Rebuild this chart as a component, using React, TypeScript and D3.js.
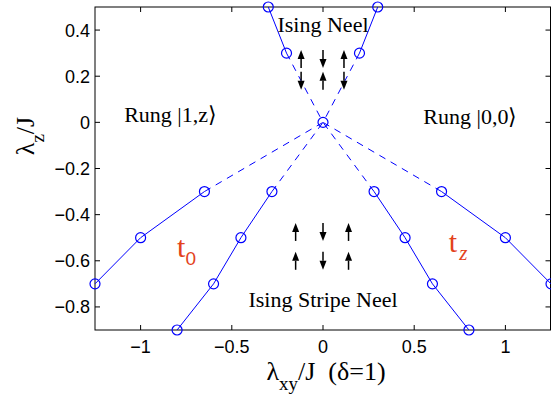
import * as d3 from 'd3';
import { useEffect, useRef } from 'react';

// phase boundaries, each a list of [lambda_xy, lambda_z], outer end first
const T0_OUTER: [number, number][] = [[-1.25, -0.7], [-1, -0.5], [-0.65, -0.3]];
const T0_INNER: [number, number][] = [[-0.8, -0.9], [-0.6, -0.7], [-0.45, -0.5], [-0.28, -0.3]];
const TZ_INNER: [number, number][] = [[0.8, -0.9], [0.6, -0.7], [0.45, -0.5], [0.28, -0.3]];
const TZ_OUTER: [number, number][] = [[1.25, -0.7], [1, -0.5], [0.65, -0.3]];
const NEEL_LEFT: [number, number][] = [[-0.3, 0.5], [-0.2, 0.3]];
const NEEL_RIGHT: [number, number][] = [[0.3, 0.5], [0.2, 0.3]];
const CENTER: [number, number] = [0, 0];

const X_TICKS = [-1, -0.5, 0, 0.5, 1];
const Y_TICKS = [0.4, 0.2, 0, -0.2, -0.4, -0.6, -0.8];

// spin arrows: [x, y, direction] (1 = up, -1 = down)
const NEEL_SPINS: [number, number, number][] = [
  [-0.12, 0.275, 1], [0, 0.275, -1], [0.115, 0.275, 1],
  [-0.12, 0.18, -1], [0, 0.18, 1], [0.115, 0.18, -1],
];
const STRIPE_SPINS: [number, number, number][] = [
  [-0.15, -0.475, 1], [0, -0.475, -1], [0.14, -0.475, 1],
  [-0.15, -0.6, 1], [0, -0.6, -1], [0.14, -0.6, 1],
];

const BLUE = '#0000ff';
const RED = '#e3421c';
const SERIF = '"Liberation Serif", "Times New Roman", serif';
const SANS = '"Liberation Sans", Arial, sans-serif';

function App() {
  const svgRef = useRef<SVGSVGElement>(null);

  useEffect(() => {
    if (!svgRef.current) { return; }
    const svg = d3.select(svgRef.current);
    svg.selectAll('*').remove();

    const x = d3.scaleLinear().domain([-1.25, 1.25]).range([95, 551]);
    const y = d3.scaleLinear().domain([-0.9, 0.5]).range([330, 7]);
    const [x0, x1] = [95, 550.5];
    const [y0, y1] = [7, 330];

    // frame + ticks
    const frame = svg.append('g');
    frame.append('rect')
      .attr('x', x0).attr('y', y0)
      .attr('width', x1 - x0).attr('height', y1 - y0)
      .attr('fill', 'none').attr('stroke', '#000').attr('stroke-width', 1);

    X_TICKS.forEach(t => {
      frame.append('line').attr('x1', x(t)).attr('x2', x(t)).attr('y1', y1).attr('y2', y1 - 5).attr('stroke', '#000');
      frame.append('line').attr('x1', x(t)).attr('x2', x(t)).attr('y1', y0).attr('y2', y0 + 5).attr('stroke', '#000');
      frame.append('text')
        .attr('x', x(t)).attr('y', 353)
        .attr('text-anchor', 'middle')
        .attr('font-family', SANS).attr('font-size', 18)
        .text(d3.format('')(t).replace('-', '\u2212'));
    });
    Y_TICKS.forEach(t => {
      frame.append('line').attr('x1', x0).attr('x2', x0 + 5).attr('y1', y(t)).attr('y2', y(t)).attr('stroke', '#000');
      frame.append('line').attr('x1', x1).attr('x2', x1 - 5).attr('y1', y(t)).attr('y2', y(t)).attr('stroke', '#000');
      frame.append('text')
        .attr('x', 90).attr('y', y(t) + 6.5)
        .attr('text-anchor', 'end')
        .attr('font-family', SANS).attr('font-size', 18)
        .text(d3.format('')(t).replace('-', '\u2212'));
    });

    const plot = svg.append('g');
    const line = d3.line<[number, number]>().x(d => x(d[0])).y(d => y(d[1]));

    const solids = [T0_OUTER, T0_INNER, TZ_INNER, TZ_OUTER, NEEL_LEFT, NEEL_RIGHT];
    solids.forEach(pts => {
      plot.append('path').attr('d', line(pts)).attr('fill', 'none').attr('stroke', BLUE).attr('stroke-width', 1);
      // dashed continuation to the origin
      const last = pts[pts.length - 1];
      plot.append('path').attr('d', line([last, CENTER]))
        .attr('fill', 'none').attr('stroke', BLUE).attr('stroke-width', 1)
        .attr('stroke-dasharray', '7,6');
    });
    [...solids.flat(), CENTER].forEach(p => {
      plot.append('circle').attr('cx', x(p[0])).attr('cy', y(p[1])).attr('r', 5)
        .attr('fill', 'none').attr('stroke', BLUE).attr('stroke-width', 1.2);
    });

    // spin arrows
    const arrows = svg.append('g');
    [...NEEL_SPINS, ...STRIPE_SPINS].forEach(([ax, ay, dir]) => {
      const cx = x(ax);
      const cy = y(ay);
      const half = 9;
      const tip = cy - dir * half;
      const tail = cy + dir * half;
      const base = tip + dir * 9;
      arrows.append('line').attr('x1', cx).attr('x2', cx).attr('y1', tail).attr('y2', base)
        .attr('stroke', '#000').attr('stroke-width', 1.5);
      arrows.append('path')
        .attr('d', `M${cx},${tip}L${cx - 3.5},${base}L${cx + 3.5},${base}Z`)
        .attr('fill', '#000');
    });

    // region labels
    const labels = svg.append('g').attr('font-family', SERIF).attr('font-size', 22).attr('fill', '#000');
    labels.append('text').attr('x', x(0)).attr('y', y(0.39)).attr('text-anchor', 'middle').text('Ising Neel');
    labels.append('text').attr('x', x(-1.09)).attr('y', y(0.003)).text('Rung |1,z\u27E9');
    labels.append('text').attr('x', x(0.55)).attr('y', y(-0.005)).text('Rung |0,0\u27E9');
    labels.append('text').attr('x', x(0)).attr('y', y(-0.8)).attr('text-anchor', 'middle').text('Ising Stripe Neel');

    const t0 = svg.append('text').attr('x', x(-0.8)).attr('y', y(-0.585)).attr('fill', RED)
      .attr('font-family', SERIF).attr('font-size', 30);
    t0.append('tspan').text('t');
    t0.append('tspan').attr('dy', 8).attr('font-family', SANS).attr('font-size', 19).text('0');

    const tz = svg.append('text').attr('x', x(0.69)).attr('y', y(-0.56)).attr('fill', RED)
      .attr('font-family', SERIF).attr('font-size', 30);
    tz.append('tspan').text('t');
    tz.append('tspan').attr('dx', 2).attr('dy', 8).attr('font-style', 'italic').attr('font-size', 21).text('z');

    // axis titles
    const xt = svg.append('text').attr('x', 326).attr('y', 380).attr('text-anchor', 'middle')
      .attr('font-family', SERIF).attr('font-size', 26);
    xt.append('tspan').text('\u03BB');
    xt.append('tspan').attr('dy', 10).attr('font-size', 19).text('xy');
    xt.append('tspan').attr('dy', -10).text('/J\u00A0\u00A0(\u03B4=1)');

    const yt = svg.append('text').attr('transform', 'translate(34,136) rotate(-90)').attr('text-anchor', 'middle')
      .attr('font-family', SERIF).attr('font-size', 26);
    yt.append('tspan').text('\u03BB');
    yt.append('tspan').attr('dy', 10).attr('font-size', 19).text('z');
    yt.append('tspan').attr('dy', -10).text('/J');
  }, []);

  return (
    <svg
      ref={svgRef}
      width={551}
      height={396}
      style={{ position: 'absolute', left: 0, top: 0, background: '#fff' }}
    />
  );
}

export default App;
